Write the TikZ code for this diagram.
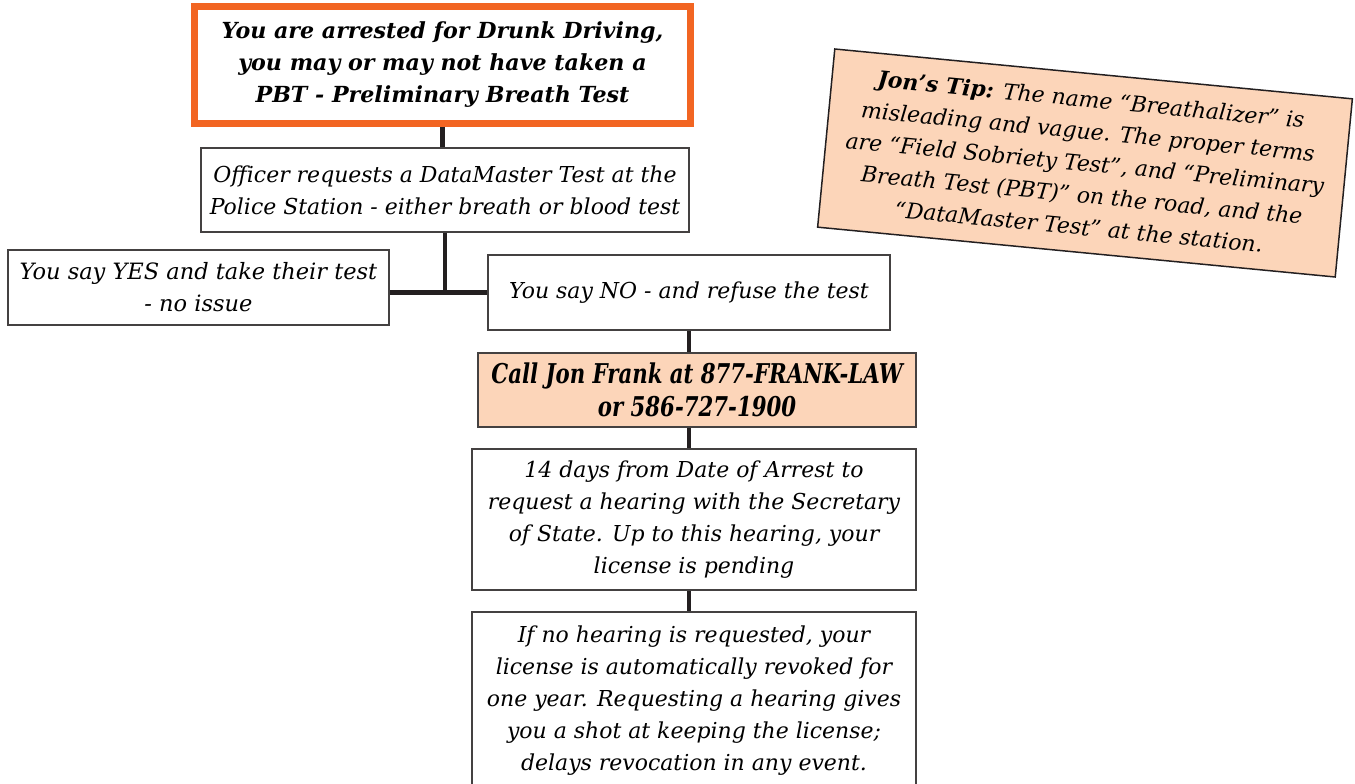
\documentclass[tikz,border=0pt]{standalone}
\usepackage{fontspec}
\usepackage{xcolor}
\usepackage{tikz}
\usetikzlibrary{calc}
\setmainfont{DejaVu Serif}
\newfontfamily\condfont[FakeStretch=0.78]{DejaVu Serif}
\definecolor{arrestorange}{HTML}{F26522}
\definecolor{peach}{HTML}{FCD5B9}
\definecolor{inkline}{HTML}{231F20}

\begin{document}
\begin{tikzpicture}[
        stepbox/.style={draw=inkline!85,line width=0.85pt,fill=white,align=center,inner sep=0pt,
            font=\fontsize{12.5}{18.2}\selectfont\itshape},
        link/.style={draw=inkline,line width=2.8pt}
    ]
        \useasboundingbox (0,0) rectangle (27.1,-15.68);

        \node[stepbox,draw=arrestorange,line width=0.14cm,minimum width=9.92cm,minimum height=2.34cm,
            font=\fontsize{12.6}{18.2}\selectfont\bfseries\itshape] (arrest) at (8.85,-1.30)
            {You are arrested for Drunk Driving,\\you may or may not have taken a\\PBT - Preliminary Breath Test};
        \node[stepbox,minimum width=9.76cm,minimum height=1.68cm] (officer) at (8.90,-3.80)
            {Officer requests a DataMaster Test at the\\Police Station - either breath or blood test};
        \node[stepbox,minimum width=7.62cm,minimum height=1.5cm,font=\fontsize{12.8}{18.2}\selectfont\itshape] (yes) at (3.97,-5.75)
            {You say YES and take their test\\- no issue};
        \node[stepbox,minimum width=8.04cm,minimum height=1.5cm] (no) at (13.78,-5.85)
            {You say NO - and refuse the test};
        \node[stepbox,fill=peach,minimum width=8.76cm,minimum height=1.48cm,
            font=\fontsize{15.5}{18.6}\selectfont\condfont\bfseries\itshape] (call) at (13.94,-7.80)
            {Call Jon Frank at 877-FRANK-LAW\\or 586-727-1900};
        \node[stepbox,minimum width=8.88cm,minimum height=2.82cm] (days) at (13.88,-10.39)
            {14 days from Date of Arrest to\\request a hearing with the Secretary\\of State. Up to this hearing, your\\license is pending};
        \node[stepbox,minimum width=8.88cm,minimum height=3.56cm] (revoke) at (13.88,-14.02)
            {If no hearing is requested, your\\license is automatically revoked for\\one year. Requesting a hearing gives\\you a shot at keeping the license;\\delays revocation in any event.};

        % tip box, tilted
        \node[stepbox,draw=inkline,fill=peach,rotate=-5.5,minimum width=10.4cm,minimum height=3.58cm] (tip) at (21.70,-3.26)
            {{\bfseries Jon’s Tip:} The name “Breathalizer” is\\misleading and vague. The proper terms\\are “Field Sobriety Test”, and “Preliminary\\Breath Test (PBT)” on the road, and the\\“DataMaster Test” at the station.};

        \coordinate (split) at (officer.south |- no.west);
        \draw[link] (arrest.south) -- (arrest.south |- officer.north);
        \draw[link] (officer.south) -- (split);
        \draw[link] (yes.east |- split) -- (no.west);
        \draw[link] (no.south) -- (no.south |- call.north);
        \draw[link] (call.south -| no.south) -- (no.south |- days.north);
        \draw[link] (days.south -| no.south) -- (no.south |- revoke.north);
    \end{tikzpicture}
\end{document}
